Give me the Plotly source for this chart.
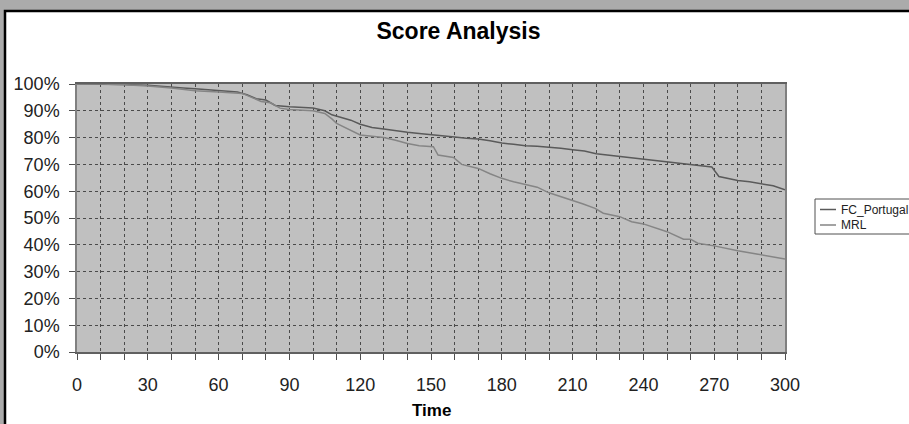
import plotly.graph_objects as go

# ---- data ----
fc_time = [0, 10, 20, 30, 40, 45, 50, 60, 68, 72, 76, 80, 84, 90, 100, 105, 108, 112, 116, 120,
           125, 130, 135, 140, 145, 150, 155, 160, 165, 170, 175, 180, 185, 190, 195, 200, 205,
           210, 215, 220, 225, 230, 235, 240, 245, 250, 255, 260, 265, 269, 272, 275, 280, 285,
           290, 295, 300]
fc_score = [100, 100, 99.8, 99.5, 99.0, 98.5, 98.2, 97.5, 97.0, 96.0, 94.5, 94.0, 92.0, 91.5, 91.0,
            90.0, 88.5, 87.5, 86.5, 85.0, 83.8, 83.2, 82.5, 82.0, 81.5, 81.0, 80.5, 80.2, 79.8,
            79.5, 78.8, 78.0, 77.5, 77.0, 76.8, 76.5, 76.0, 75.5, 75.0, 74.0, 73.5, 73.0, 72.5,
            72.0, 71.5, 71.0, 70.5, 70.0, 69.5, 69.0, 65.5, 65.0, 64.0, 63.5, 62.8, 62.0, 60.5]

mrl_time = [0, 10, 20, 30, 40, 50, 60, 70, 74, 78, 82, 86, 90, 100, 105, 108, 110, 113, 117, 120,
            125, 130, 135, 140, 145, 151, 153, 159.5, 163, 170, 175, 180, 185, 190, 195, 200, 205,
            210, 214.5, 219.5, 223, 230, 235, 240, 245, 250, 257, 260, 263, 270, 280, 290, 300]
mrl_score = [100, 100, 99.7, 99.3, 98.5, 97.5, 97.0, 96.5, 95.0, 93.5, 93.0, 91.0, 90.5, 90.0, 89.0,
             87.0, 85.3, 84.0, 82.0, 81.0, 80.5, 80.0, 79.0, 77.8, 77.0, 76.6, 73.5, 72.6, 70.0,
             68.5, 66.5, 64.8, 63.5, 62.5, 61.5, 59.4, 58.0, 56.7, 55.2, 53.6, 51.8, 50.5, 48.6,
             47.8, 46.2, 44.9, 42.1, 42.1, 40.6, 39.6, 37.8, 36.2, 34.7]

x_ticks = [0, 30, 60, 90, 120, 150, 180, 210, 240, 270, 300]
y_ticks = [0, 0.1, 0.2, 0.3, 0.4, 0.5, 0.6, 0.7, 0.8, 0.9, 1.0]
y_tick_labels = ["0%", "10%", "20%", "30%", "40%", "50%", "60%", "70%", "80%", "90%", "100%"]

series_names = ["FC_Portugal", "MRL"]
series_colors = ["#5a5a5a", "#858585"]

FONT = "Liberation Sans, Arial, sans-serif"

fig = go.Figure()
fig.add_trace(go.Scatter(x=fc_time, y=[v / 100 for v in fc_score], mode="lines",
                         name=series_names[0], line=dict(color=series_colors[0], width=1.5)))
fig.add_trace(go.Scatter(x=mrl_time, y=[v / 100 for v in mrl_score], mode="lines",
                         name=series_names[1], line=dict(color=series_colors[1], width=1.5)))

L, R, T, B = 77, 124, 84, 72
W, H = 909, 424
pw, ph = W - L - R, H - T - B


def px(xp):
    return (xp - L) / pw


def py(yp):
    return (H - B - yp) / ph


shapes = [
    # white chart frame
    dict(type="rect", xref="paper", yref="paper", x0=px(5), x1=px(916), y0=py(431), y1=py(11),
         fillcolor="white", line=dict(color="black", width=2.5), layer="below"),
    # plot area fill
    dict(type="rect", xref="x", yref="y", x0=0, x1=300, y0=0, y1=1,
         fillcolor="#c0c0c0", line=dict(width=0), layer="below"),
    # legend box
    dict(type="rect", xref="paper", yref="paper", x0=px(815), x1=px(916), y0=py(234), y1=py(199),
         fillcolor="white", line=dict(color="#505050", width=1)),
]
annotations = []
for i, (nm, col) in enumerate(zip(series_names, series_colors)):
    yy = py(209.5 + 15.5 * i)
    shapes.append(dict(type="line", xref="paper", yref="paper", x0=px(820), x1=px(836),
                       y0=yy, y1=yy, line=dict(color=col, width=1.5)))
    annotations.append(dict(text=nm, xref="paper", yref="paper", x=px(839), y=yy,
                            xanchor="left", yanchor="middle", showarrow=False,
                            font=dict(family=FONT, size=12, color="#222")))

annotations.append(dict(text="<b>Time</b>", xref="paper", yref="paper", x=0.5, y=py(410),
                        xanchor="center", yanchor="middle", showarrow=False,
                        font=dict(family=FONT, size=17, color="black")))

fig.update_layout(
    width=W, height=H,
    margin=dict(l=L, r=R, t=T, b=B),
    paper_bgcolor="#ababab",
    plot_bgcolor="#c0c0c0",
    showlegend=False,
    title=dict(text="<b>Score Analysis</b>", x=458.5 / W, xanchor="center",
               y=1 - 31 / H, yanchor="middle", xref="container", yref="container",
               font=dict(family=FONT, size=23, color="black")),
    shapes=shapes,
    annotations=annotations,
)

GRID = "#4a4a4a"
fig.update_xaxes(
    range=[0, 300], tickvals=x_ticks, ticks="outside", ticklen=6, tickcolor="#505050",
    tickfont=dict(family=FONT, size=18, color="#222"), ticklabelstandoff=10,
    showgrid=True, gridcolor=GRID, griddash="dot", gridwidth=1,
    minor=dict(dtick=10, tick0=0, ticks="outside", ticklen=6, tickcolor="#505050",
               showgrid=True, gridcolor=GRID, griddash="dot", gridwidth=1),
    showline=True, linecolor="#606060", linewidth=1.5, mirror=True, zeroline=False,
)
fig.update_yaxes(
    range=[0, 1], tickvals=y_ticks, ticktext=y_tick_labels, ticks="outside", ticklen=6,
    tickcolor="#505050", tickfont=dict(family=FONT, size=18, color="#222"),
    ticklabelstandoff=6,
    showgrid=True, gridcolor=GRID, griddash="dot", gridwidth=1,
    showline=True, linecolor="#808080", linewidth=1.5, mirror=True, zeroline=False,
)

fig.write_html("out.html", config={"displayModeBar": False},
               post_script="document.body.style.margin='0px';document.body.style.overflow='hidden';")
